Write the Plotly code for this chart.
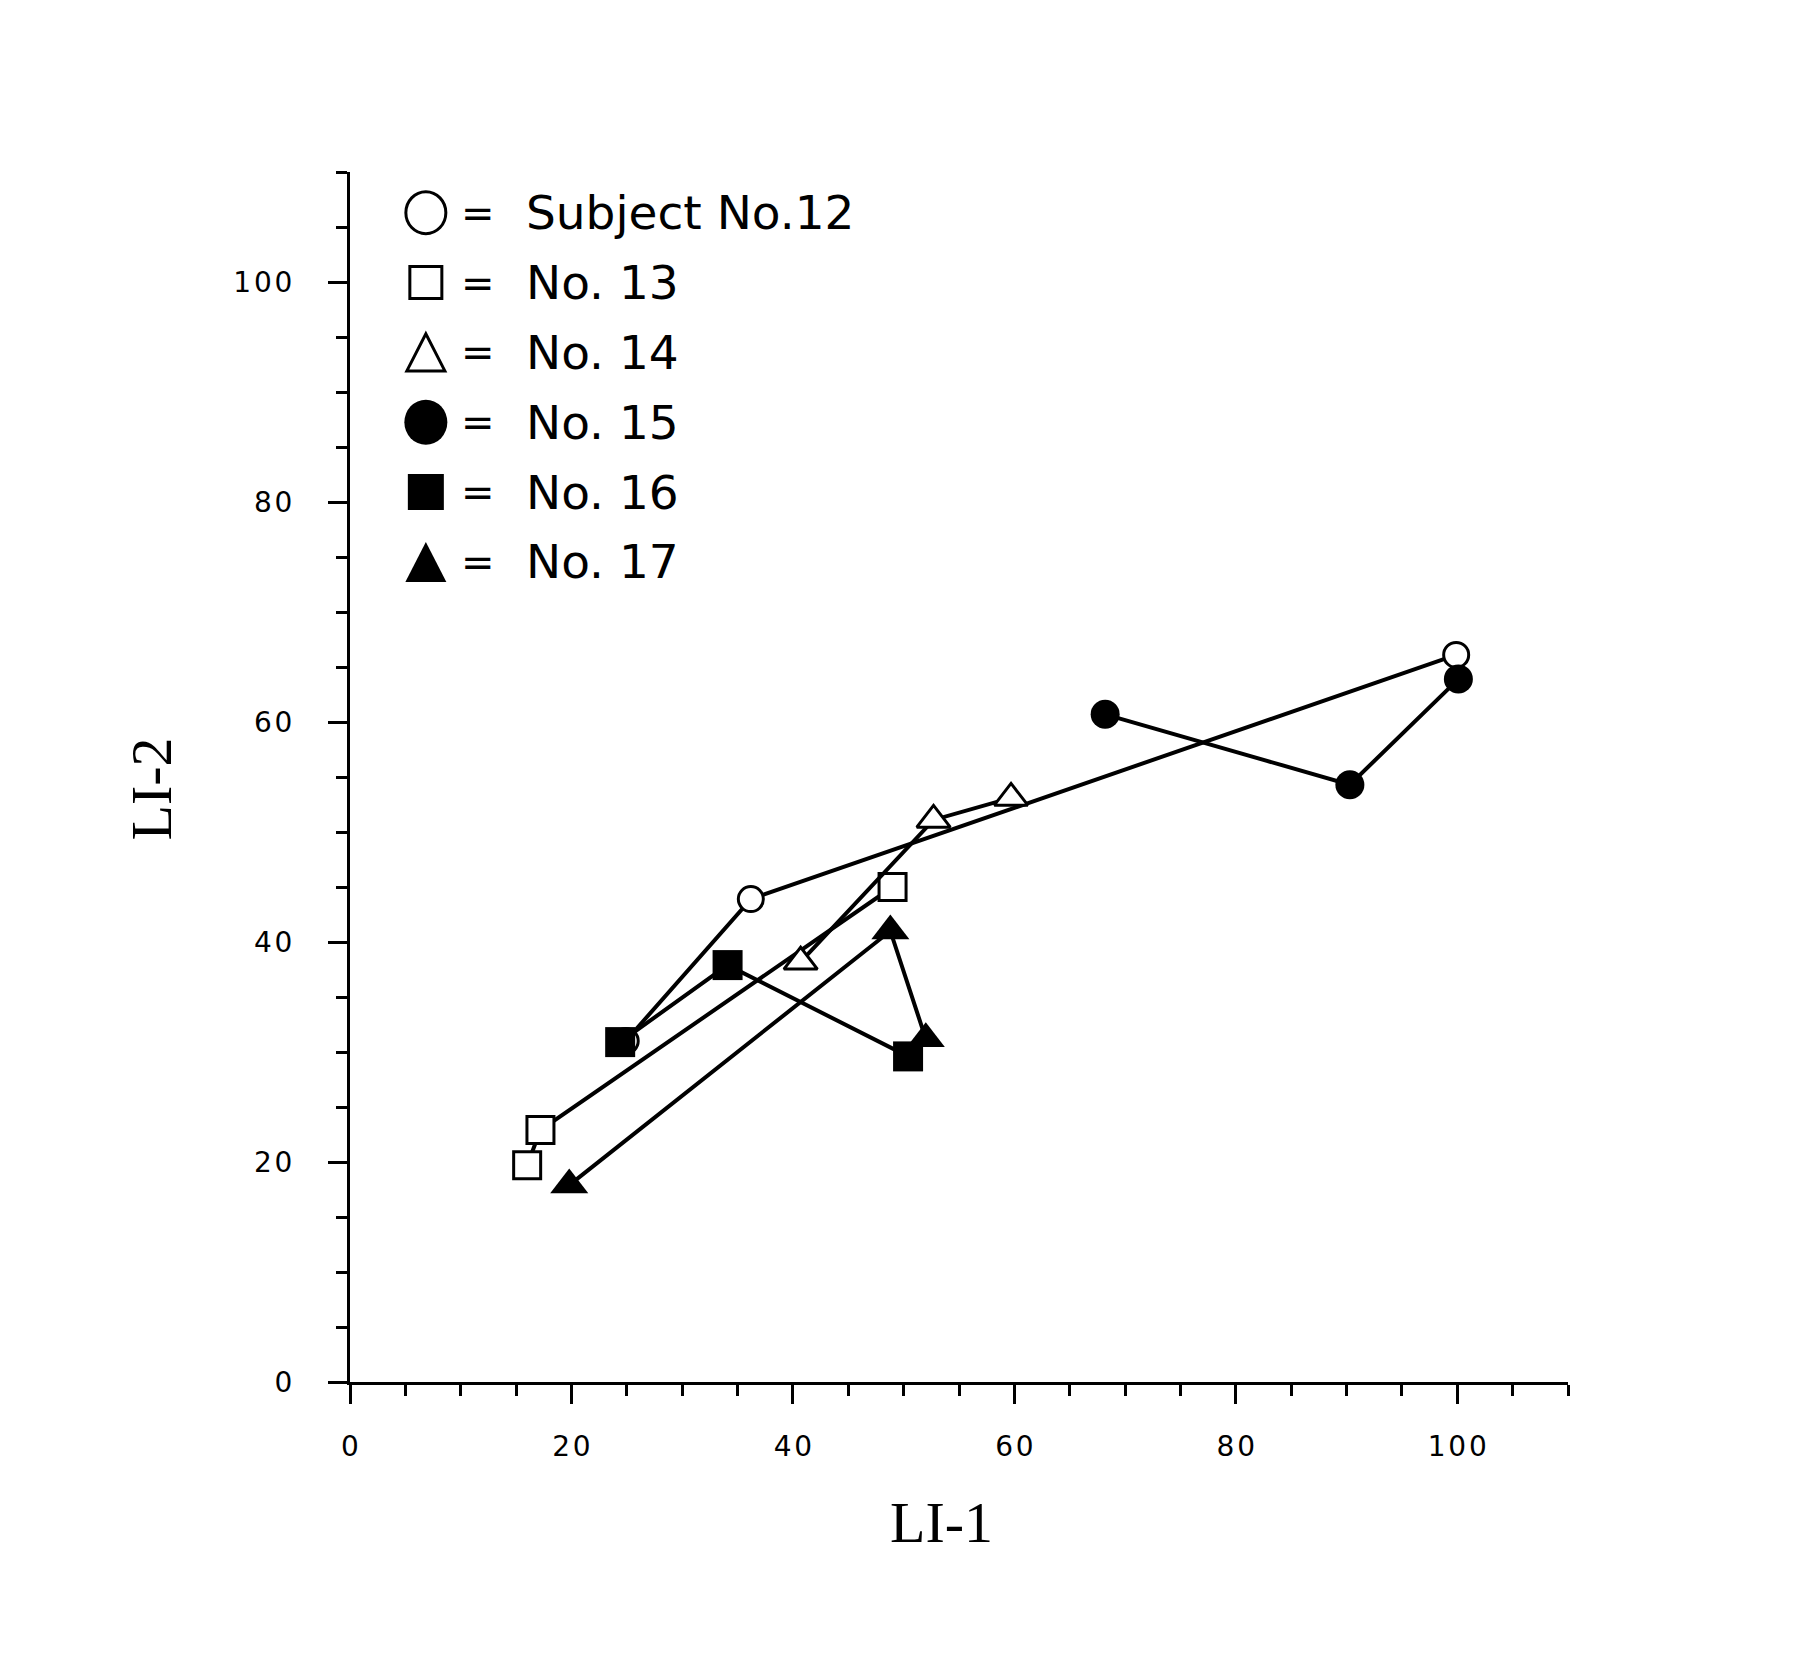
import plotly.graph_objects as go

# ---- data ----
subject_names = ["Subject No.12", "No. 13", "No. 14", "No. 15", "No. 16", "No. 17"]

no12_x = [24.9, 36.2, 99.9]
no12_y = [31.0, 43.9, 66.1]
no13_x = [16.0, 17.2, 49.0]
no13_y = [19.7, 22.9, 45.0]
no14_x = [40.7, 52.7, 59.7]
no14_y = [38.2, 51.1, 53.1]
no15_x = [68.2, 90.3, 100.1]
no15_y = [60.7, 54.3, 63.9]
no16_x = [24.4, 34.1, 50.4]
no16_y = [30.9, 37.9, 29.6]
no17_x = [19.8, 48.8, 52.0]
no17_y = [17.9, 41.0, 31.2]

tick_values = [0, 20, 40, 60, 80, 100]
tick_labels = ["0", "20", "40", "60", "80", "100"]

x_title = "LI-1"
y_title = "LI-2"

# ---- styles ----
series = [
    (no12_x, no12_y, "circle", "white", 25, 3),
    (no13_x, no13_y, "square", "white", 27, 3),
    (no14_x, no14_y, "triangle-up", "white", 29, 3),
    (no15_x, no15_y, "circle", "black", 29, 0),
    (no16_x, no16_y, "square", "black", 30, 0),
    (no17_x, no17_y, "triangle-up", "black", 33, 0),
]

fig = go.Figure()
for (xs, ys, sym, fillc, size, lw), name in zip(series, subject_names):
    fig.add_trace(go.Scatter(
        x=xs, y=ys, name=name, mode="lines+markers",
        line=dict(color="black", width=4),
        marker=dict(symbol=sym, color=fillc, size=size,
                    line=dict(color="black", width=lw)),
        cliponaxis=False, showlegend=False,
    ))

spaced = ["\u200a".join(t) for t in tick_labels]
tick_font = dict(family="DejaVu Sans", size=28, color="black")
axis_common = dict(
    range=[0, 110], showline=True, linewidth=3, linecolor="black",
    ticks="outside", ticklen=19, tickwidth=3, tickcolor="black",
    tickmode="array", tickvals=tick_values, ticktext=spaced,
    tickfont=tick_font, showgrid=False, zeroline=False,
    minor=dict(tick0=0, dtick=5, ticks="outside", ticklen=11,
               tickwidth=3, tickcolor="black", showgrid=False),
)
fig.update_xaxes(**axis_common, ticklabelstandoff=18)
fig.update_yaxes(**axis_common, ticklabelstandoff=30)

# ---- hand-drawn legend (symbol  =  name) ----
legend_x = 6.85
eq_x = 11.57
text_x = 15.7
legend_top = 106.3
row_step = 6.35
shapes = []
annotations = []
legend_kinds = [("circle", "white"), ("square", "white"), ("triangle", "white"),
                ("circle", "black"), ("square", "black"), ("triangle", "black")]
for i, ((kind, fillc), name) in enumerate(zip(legend_kinds, subject_names)):
    yc = legend_top - i * row_step
    common = dict(xref="x", yref="y", xsizemode="pixel", ysizemode="pixel",
                  xanchor=legend_x, yanchor=yc, fillcolor=fillc,
                  line=dict(color="black", width=3 if fillc == "white" else 0))
    if kind == "circle":
        r = 20 if fillc == "white" else 21.5
        shapes.append(dict(type="circle", x0=-r, x1=r, y0=-r - 1, y1=r + 1, **common))
    elif kind == "square":
        r = 16 if fillc == "white" else 18
        shapes.append(dict(type="rect", x0=-r, x1=r, y0=-r, y1=r, **common))
    else:
        hw = 19 if fillc == "white" else 20.5
        hh = 18.5 if fillc == "white" else 20
        shapes.append(dict(type="path",
                           path=f"M {-hw},{-hh} L {hw},{-hh} L 0,{hh} Z", **common))
    annotations.append(dict(x=eq_x, y=yc, xref="x", yref="y", text="=",
                            showarrow=False, xanchor="center", yanchor="middle",
                            font=dict(family="DejaVu Sans", size=40, color="black")))
    annotations.append(dict(x=text_x, y=yc, xref="x", yref="y", text=name,
                            showarrow=False, xanchor="left", yanchor="middle",
                            font=dict(family="DejaVu Sans", size=47, color="black")))

title_font = dict(family="Liberation Serif", size=58, color="black")
annotations.append(dict(x=0.486, y=-0.116, xref="paper", yref="paper", text=x_title,
                        showarrow=False, xanchor="center", yanchor="middle",
                        font=title_font))
annotations.append(dict(x=-0.1626, y=0.4905, xref="paper", yref="paper", text=y_title,
                        showarrow=False, xanchor="center", yanchor="middle",
                        textangle=-90, font=title_font))

fig.update_layout(
    width=1800, height=1666,
    margin=dict(l=342, r=240, t=164, b=292),
    paper_bgcolor="white", plot_bgcolor="white",
    showlegend=False,
    shapes=shapes, annotations=annotations,
)

fig.write_html("out.html")
